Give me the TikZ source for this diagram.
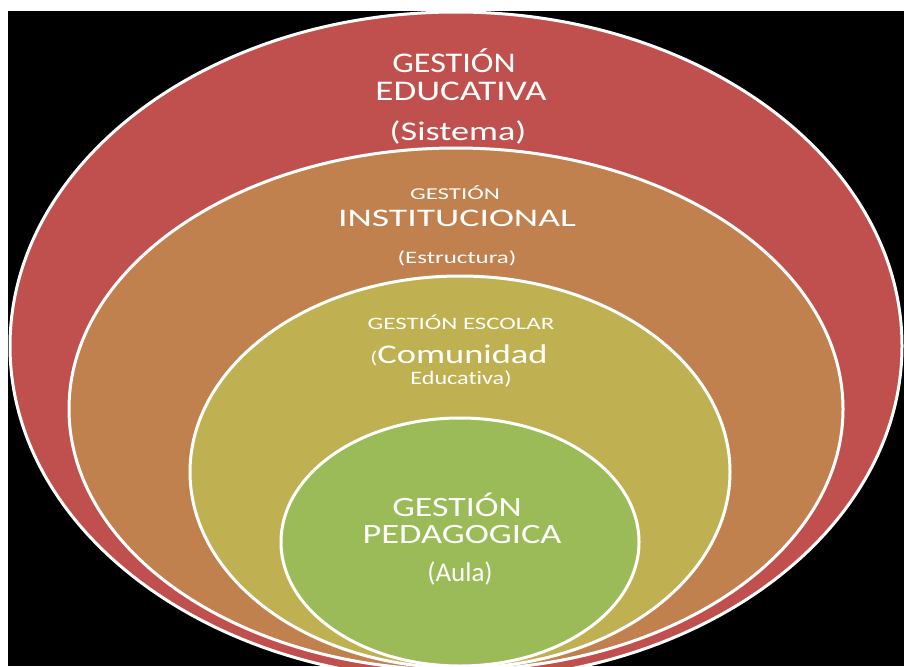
\documentclass[tikz,border=0pt]{standalone}
\usepackage{fontspec}
\setmainfont{Carlito}[Ligatures=NoCommon]
\usetikzlibrary{shapes.geometric}
\definecolor{ringred}{HTML}{C0504D}
\definecolor{ringorange}{HTML}{C0814F}
\definecolor{ringolive}{HTML}{BFB152}
\definecolor{ringgreen}{HTML}{9BBB59}
% horizontal stretch of one label line
\newcommand{\wide}[2]{\scalebox{#1}[1]{#2}}
\tikzset{
  ring/.style={
    ellipse,
    draw=white,
    line width=3pt,
    inner sep=0pt,
    outer sep=0pt
  },
  ringtext/.style={text=white, inner sep=0pt, anchor=base}
}

\begin{document}
\begin{tikzpicture}[x=1pt, y=-1pt]
  \useasboundingbox (0,0) rectangle (904,666);
  \fill[white] (0,0) rectangle (904,666);
  \fill[black] (8,11) rectangle (904,666);
  \clip (8,11) rectangle (904,666);
  % nested rings, outermost first
  \node[ring, fill=ringred, minimum width=892pt, minimum height=668pt] (sistema) at (456,346) {};
  \node[ring, fill=ringorange, minimum width=774pt, minimum height=522pt] (estructura) at (456,409) {};
  \node[ring, fill=ringolive, minimum width=540pt, minimum height=392pt] (comunidad) at (460,472) {};
  \node[ring, fill=ringgreen, minimum width=358pt, minimum height=248pt] (aula) at (460,542) {};
  % labels, one node per line
  \node[ringtext, font=\fontsize{28.5}{30}\selectfont] (sistema1) at (454,73) {\wide{1.2}{GESTIÓN}};
  \node[ringtext, font=\fontsize{28.5}{30}\selectfont] (sistema2) at (461,101) {\wide{1.3}{EDUCATIVA}};
  \node[ringtext, font=\fontsize{27}{30}\selectfont] (sistema3) at (458,140) {\wide{1.34}{(Sistema)}};
  \node[ringtext, font=\fontsize{16.6}{20}\selectfont] (estructura1) at (455,199) {\wide{1.5}{GESTIÓN}};
  \node[ringtext, font=\fontsize{25.3}{28}\selectfont] (estructura2) at (457,226) {\wide{1.49}{INSTITUCIONAL}};
  \node[ringtext, font=\fontsize{17.4}{20}\selectfont] (estructura3) at (457,263) {\wide{1.43}{(Estructura)}};
  \node[ringtext, font=\fontsize{17.4}{20}\selectfont] (comunidad1) at (461,329) {\wide{1.43}{GESTIÓN ESCOLAR}};
  \node[ringtext, font=\fontsize{27}{30}\selectfont] (comunidad2) at (459,363) {\wide{1.35}{{\fontsize{17}{20}\selectfont(}Comunidad}};
  \node[ringtext, font=\fontsize{19}{22}\selectfont] (comunidad3) at (461,384) {\wide{1.27}{Educativa)}};
  \node[ringtext, font=\fontsize{28}{30}\selectfont] (aula1) at (457,516) {\wide{1.28}{GESTIÓN}};
  \node[ringtext, font=\fontsize{28}{30}\selectfont] (aula2) at (462,543) {\wide{1.3}{PEDAGOGICA}};
  \node[ringtext, font=\fontsize{27}{30}\selectfont] (aula3) at (460,581) {(Aula)};
\end{tikzpicture}
\end{document}
